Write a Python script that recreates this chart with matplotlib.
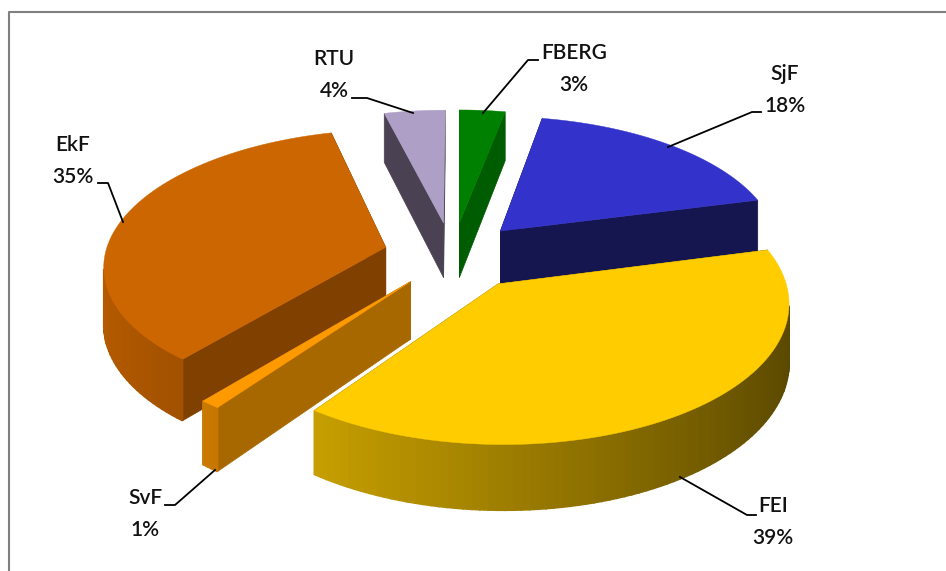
import numpy as np
import matplotlib
matplotlib.use('Agg')
import matplotlib.pyplot as plt

# clockwise from the first slice at the right hand side
names = ['FEI', 'SvF', 'EkF', 'RTU', 'FBERG', 'SjF']
shares = [39, 1, 35, 4, 3, 18]

top_colors = ['#ffcc00', '#ff9900', '#cc6600', '#ae9fc6', '#008000', '#3333cc']
wall_colors = ['#8a6f00', '#a86800', '#804000', '#4a4152', '#005c00', '#15154f']
explode = [0.27, 0.275, 0.265, 0.23, 0.225, 0.22]
explode_turn = [-4, 0, 5, 7, 5, 0]  # degrees, slices did not move exactly outward
draw_order = [3, 4, 5, 2, 1, 0]

label_pos = {'FEI': (773, 522), 'SvF': (145, 514), 'EkF': (73, 161),
             'RTU': (334, 75), 'FBERG': (574, 69), 'SjF': (785, 90)}
leaders = {'FEI': [(680, 477), (747, 515), (756, 515)],
           'SvF': [(215, 470), (175, 505), (165, 505)],
           'EkF': [(123, 222), (108, 183), (98, 183)],
           'RTU': [(413, 113), (367, 98), (352, 98)],
           'FBERG': [(483, 113), (528, 60), (538, 60)],
           'SjF': [(668, 147), (752, 112), (761, 112)]}

start_angle = 14.4
cx, cy = 459, 252
ax_a, ax_b = 280, 133
persp = 0.12
depth = 56


def project(X, Y, z=0):
    w = 1 + persp * Y
    return cx + ax_a * X / w, cy - ax_b * Y / w + depth * z / w


def shade(color, t):
    rgb = np.array(matplotlib.colors.to_rgb(color))
    return tuple(rgb * (0.62 - 0.27 * np.cos(t)))


def draw_slice(ax, i, t0, t1):
    mid = (t0 + t1) / 2 + np.radians(explode_turn[i])
    ox = explode[i] * np.cos(mid)
    oy = explode[i] * np.sin(mid)
    t = np.linspace(t0, t1, max(int(abs(t1 - t0) * 40), 4))
    X = ox + np.cos(t)
    Y = oy + np.sin(t)
    xt, yt = project(X, Y)
    xb, yb = project(X, Y, 1)
    ax0, ay0 = project(ox, oy)
    ax1, ay1 = project(ox, oy, 1)
    # the two flat cut faces
    ax.fill([ax0, xt[0], xb[0], ax1], [ay0, yt[0], yb[0], ay1],
            color=wall_colors[i], lw=0.5, zorder=2)
    ax.fill([ax0, xt[-1], xb[-1], ax1], [ay0, yt[-1], yb[-1], ay1],
            color=wall_colors[i], lw=0.5, zorder=2)
    # rounded outer wall, shaded strip by strip, back part can not be seen
    for k in range(len(t) - 1):
        tm = (t[k] + t[k + 1]) / 2
        # skip the strips behind the silhouette point of the perspective circle
        if np.sin(tm) * (1 + persp * Y[k]) + persp * X[k] * np.cos(tm) > 0:
            continue
        c = shade(top_colors[i], tm)
        ax.fill([xt[k], xt[k + 1], xb[k + 1], xb[k]],
                [yt[k], yt[k + 1], yb[k + 1], yb[k]],
                facecolor=c, edgecolor=c, lw=1.2, zorder=2)
    ax.fill(np.r_[ax0, xt], np.r_[ay0, yt], color=top_colors[i], lw=0.3, zorder=2)


plt.rcParams['font.family'] = ['Lato', 'DejaVu Sans']
fig = plt.figure(figsize=(9.46, 5.71), dpi=100)
ax = fig.add_axes([0, 0, 1, 1])
ax.set_xlim(0, 946)
ax.set_ylim(571, 0)
ax.axis('off')

# chart frame, only left and top survive in the crop
ax.plot([9, 9, 946], [571, 12, 12], color='#808080', lw=1.5, zorder=1)

edges = np.radians(start_angle - 3.6 * np.cumsum([0] + shares))
for i in draw_order:
    draw_slice(ax, i, edges[i], edges[i + 1])

for i, name in enumerate(names):
    px, py = zip(*leaders[name])
    ax.plot(px, py, color='black', lw=1.3, zorder=3)
    lx, ly = label_pos[name]
    ax.text(lx, ly, name + '\n' + str(shares[i]) + '%', ha='center', va='center',
            fontsize=15, fontweight='semibold', color='#111111', linespacing=1.75, zorder=4)

fig.savefig('out.png', dpi=100)
